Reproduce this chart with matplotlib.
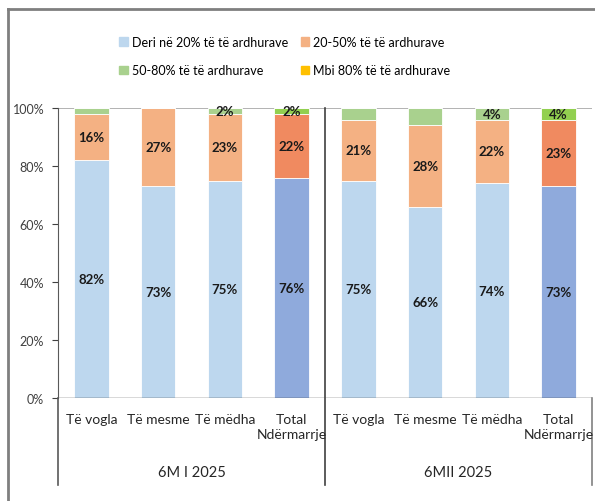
import matplotlib.pyplot as plt
from matplotlib.lines import Line2D
from matplotlib.patches import Patch

# data
categories = ['Të vogla', 'Të mesme', 'Të mëdha', 'Total\nNdërmarrje',
              'Të vogla', 'Të mesme', 'Të mëdha', 'Total\nNdërmarrje']
groups = ['6M I 2025', '6MII 2025']
deri_20 = [82, 73, 75, 76, 75, 66, 74, 73]
p20_50 = [16, 27, 23, 22, 21, 28, 22, 23]
p50_80 = [2, 0, 2, 2, 4, 6, 4, 4]
mbi_80 = [0, 0, 0, 0, 0, 0, 0, 0]
green_labels = [False, False, True, True, False, False, True, True]
series_names = ['Deri në 20% të të ardhurave', '20-50% të të ardhurave',
                '50-80% të të ardhurave', 'Mbi 80% të të ardhurave']

plt.rcParams['font.family'] = ['Lato', 'DejaVu Sans']

light = ['#BDD7EE', '#F4B183', '#A9D18E', '#FFC000']
dark = ['#8FAADC', '#F08A60', '#92D050', '#FFC000']
is_total = [c.startswith('Total') for c in categories]

fig = plt.figure(figsize=(5.95, 5.02), dpi=100)
ax = fig.add_axes([58 / 595, 103 / 502, 534 / 595, 290 / 502])

x = list(range(len(categories)))
w = 0.52
bottom = [0] * len(x)
for vals, i in zip([deri_20, p20_50, p50_80, mbi_80], range(4)):
    cols = [dark[i] if t else light[i] for t in is_total]
    ax.bar(x, vals, w, bottom=bottom, color=cols, edgecolor='white', linewidth=0.6)
    for k in x:
        show = vals[k] > 0 and (i < 2 or (i == 2 and green_labels[k]))
        if show:
            ax.text(k, bottom[k] + vals[k] / 2, f'{vals[k]}%', ha='center', va='center',
                    fontsize=9.5, fontweight='bold', color='#1a1a1a')
    bottom = [b + v for b, v in zip(bottom, vals)]

ax.set_xlim(-0.5, 7.5)
ax.set_ylim(0, 100)
ax.set_yticks([0, 20, 40, 60, 80, 100])
ax.set_yticklabels([f'{t}%' for t in [0, 20, 40, 60, 80, 100]], fontsize=9, color='#404040')
ax.tick_params(axis='y', length=4, color='#404040', pad=6)
ax.set_xticks([])
for s in ['top', 'right', 'bottom']:
    ax.spines[s].set_visible(False)
ax.spines['left'].set_color('#595959')
ax.axhline(100, color='#a6a6a6', linewidth=1.2, zorder=0)
ax.axhline(0, color='#404040', linewidth=1.0)

# category and group labels under the axis
for k, c in zip(x, categories):
    ax.text(k, -5.2, c, ha='center', va='top', fontsize=10, color='#262626',
            linespacing=1.3)
for g, name in enumerate(groups):
    ax.text(1.5 + 4 * g, -25.5, name, ha='center', va='center', fontsize=10.5, color='#262626')

# separators
for xv, col in [(-0.5, '#595959'), (3.5, '#404040'), (7.5, '#808080')]:
    ax.add_line(Line2D([xv, xv], [-30, 100 if xv == 3.5 else 0], color=col,
                       linewidth=1.2, clip_on=False))

# outer frame
fig.add_artist(Line2D([8 / 595, 8 / 595], [0, 1 - 10 / 502], color='#7f7f7f',
                      linewidth=2, transform=fig.transFigure))
fig.add_artist(Line2D([8 / 595, 1], [1 - 10 / 502, 1 - 10 / 502], color='#7f7f7f',
                      linewidth=2, transform=fig.transFigure))

handles = [Patch(color=light[i]) for i in range(4)]
order = [0, 2, 1, 3]
fig.legend([handles[i] for i in order], [series_names[i] for i in order], ncol=2,
           loc='center left', bbox_to_anchor=(108 / 595, 1 - 57 / 502), frameon=False,
           fontsize=9, handlelength=0.7, handleheight=0.7, handletextpad=0.3,
           columnspacing=1.0, labelspacing=1.35)

plt.savefig('out.png', dpi=100)
